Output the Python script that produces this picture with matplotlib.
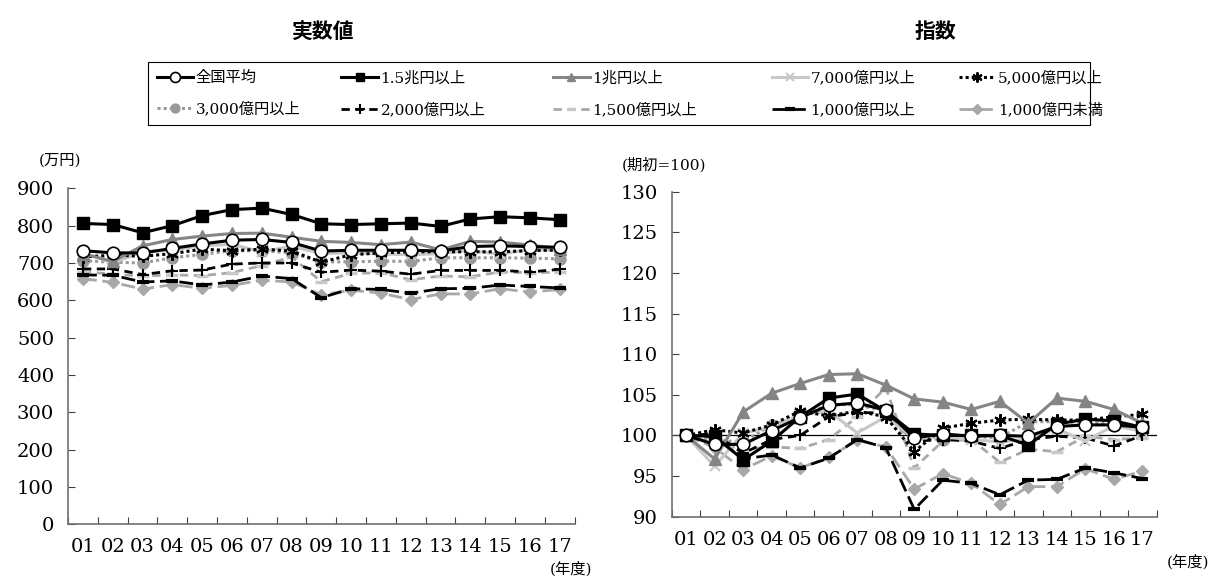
import numpy as np
import matplotlib.pyplot as plt
from matplotlib.patches import Rectangle
from matplotlib.ticker import FixedLocator, NullFormatter

plt.rcParams['font.family'] = ['DejaVu Serif', 'Noto Sans CJK JP']

# 年度
years = ['01', '02', '03', '04', '05', '06', '07', '08', '09',
         '10', '11', '12', '13', '14', '15', '16', '17']

# 実数値 (万円)
zenkoku = [733, 727, 727, 739, 751, 761, 763, 755, 732, 734, 734, 734, 732, 744, 746, 744, 742]
cho15 = [806, 803, 781, 800, 827, 843, 847, 830, 805, 803, 805, 807, 798, 818, 824, 821, 816]
cho1 = [725, 704, 746, 763, 772, 779, 780, 769, 758, 755, 749, 756, 735, 758, 756, 748, 738]
oku7000 = [728, 700, 730, 735, 746, 750, 730, 745, 725, 727, 724, 722, 725, 734, 723, 737, 732]
oku5000 = [716, 721, 718, 725, 737, 733, 737, 732, 702, 722, 727, 730, 730, 730, 730, 733, 735]
oku3000 = [706, 702, 700, 714, 723, 733, 733, 727, 703, 703, 705, 704, 714, 714, 714, 713, 711]
oku2000 = [684, 684, 669, 679, 681, 697, 700, 700, 675, 681, 678, 670, 680, 680, 680, 676, 683]
oku1500 = [677, 670, 665, 668, 666, 674, 693, 716, 650, 672, 674, 655, 665, 663, 676, 674, 675]
oku1000 = [668, 667, 649, 652, 641, 649, 665, 658, 607, 631, 629, 619, 631, 632, 641, 637, 633]
miman1000 = [658, 648, 630, 642, 632, 640, 654, 649, 615, 627, 619, 602, 617, 617, 631, 622, 629]

# 指数 (期初=100)
zenkoku_idx = [100, 98.9, 98.9, 100.6, 102.2, 103.7, 104.0, 103.1, 99.7, 100.2, 99.9, 100.0, 99.9, 101.1, 101.3, 101.3, 101.0]
cho15_idx = [100, 99.9, 97.0, 99.3, 102.3, 104.6, 105.1, 103.0, 100.2, 100.0, 100.0, 100.0, 98.8, 101.4, 102.0, 101.8, 101.0]
cho1_idx = [100, 97.1, 102.9, 105.2, 106.4, 107.5, 107.6, 106.2, 104.5, 104.1, 103.2, 104.2, 101.5, 104.6, 104.2, 103.2, 101.5]
oku7000_idx = [100, 96.2, 100.3, 101.0, 102.5, 103.0, 100.3, 102.3, 99.6, 99.8, 99.5, 99.2, 99.6, 100.8, 99.3, 101.2, 100.5]
oku5000_idx = [100, 100.7, 100.3, 101.3, 103.0, 102.4, 103.0, 102.3, 98.0, 100.9, 101.5, 101.9, 102.0, 101.9, 101.9, 102.3, 102.6]
oku3000_idx = [100, 99.4, 99.2, 101.3, 102.3, 103.8, 103.8, 103.0, 99.7, 99.5, 99.9, 99.7, 101.7, 101.7, 101.6, 101.5, 101.0]
oku2000_idx = [100, 100.2, 97.8, 99.5, 100.0, 102.3, 102.8, 102.8, 99.3, 99.5, 99.3, 98.4, 99.5, 99.9, 99.7, 98.7, 100.0]
oku1500_idx = [100, 99.0, 98.3, 98.6, 98.4, 99.5, 102.3, 105.9, 96.0, 99.3, 99.5, 96.7, 98.3, 98.0, 99.9, 99.5, 99.7]
oku1000_idx = [100, 99.8, 97.1, 97.6, 96.0, 97.2, 99.5, 98.5, 90.9, 94.5, 94.1, 92.7, 94.5, 94.6, 96.0, 95.4, 94.7]
miman1000_idx = [100, 98.5, 95.8, 97.5, 96.0, 97.3, 99.4, 98.6, 93.4, 95.3, 94.1, 91.5, 93.7, 93.7, 95.9, 94.6, 95.6]

labels = ['全国平均', '1.5兆円以上', '1兆円以上', '7,000億円以上', '5,000億円以上',
          '3,000億円以上', '2,000億円以上', '1,500億円以上', '1,000億円以上', '1,000億円未満']

real = [zenkoku, cho15, cho1, oku7000, oku5000, oku3000, oku2000, oku1500, oku1000, miman1000]
idx = [zenkoku_idx, cho15_idx, cho1_idx, oku7000_idx, oku5000_idx, oku3000_idx,
       oku2000_idx, oku1500_idx, oku1000_idx, miman1000_idx]

# 系列ごとの線・マーカー
styles = [
    dict(color='black', lw=2.2, ls='-', marker='o', ms=9, mfc='white', mec='black', mew=1.2, zorder=10),
    dict(color='black', lw=2.2, ls='-', marker='s', ms=8, mfc='black', mec='black', zorder=8),
    dict(color='#858585', lw=2.2, ls='-', marker='^', ms=8, mfc='#858585', mec='#858585', zorder=7),
    dict(color='#c8c8c8', lw=2.2, ls='-', marker='x', ms=7, mfc='#c8c8c8', mec='#c8c8c8', mew=1.5, zorder=6),
    dict(color='black', lw=2.2, ls=(0, (1, 1)), marker=(6, 2, 0), ms=9, mec='black', mew=1.5, zorder=6),
    dict(color='#9a9a9a', lw=2.2, ls=(0, (1, 1)), marker='o', ms=8, mfc='#9a9a9a', mec='#9a9a9a', zorder=5),
    dict(color='black', lw=2.0, ls=(0, (3, 2)), marker='+', ms=9, mec='black', mew=1.5, zorder=5),
    dict(color='#a8a8a8', lw=2.0, ls=(0, (3, 2)), marker='_', ms=8, mec='#c8c8c8', mew=2.5, zorder=4),
    dict(color='black', lw=2.0, ls=(0, (5, 2)), marker='_', ms=9, mec='black', mew=3, zorder=4),
    dict(color='#a8a8a8', lw=2.0, ls=(0, (5, 2)), marker='D', ms=6.5, mfc='#a8a8a8', mec='#a8a8a8', zorder=3),
]

fig = plt.figure(figsize=(12.15, 5.76), dpi=100)
ax1 = fig.add_axes([0.056, 0.090, 0.417, 0.583])
ax2 = fig.add_axes([0.553, 0.103, 0.399, 0.564])

x = np.arange(1, len(years) + 1)


def setup(ax, ylim, step):
    ax.set_xlim(0.5, len(years) + 0.5)
    ax.set_ylim(*ylim)
    ax.set_yticks(np.arange(ylim[0], ylim[1] + step, step))
    ax.xaxis.set_major_locator(FixedLocator(np.arange(0.5, len(years) + 1, 1)))
    ax.xaxis.set_major_formatter(NullFormatter())
    ax.set_xticks(x, minor=True)
    ax.set_xticklabels(years, minor=True)
    ax.tick_params(axis='x', which='minor', length=0, pad=10, labelsize=14)
    ax.tick_params(axis='x', which='major', direction='in', length=5, color='#404040')
    ax.tick_params(axis='y', direction='in', length=5, color='#404040', labelsize=14, pad=10)
    for s in ['top', 'right']:
        ax.spines[s].set_visible(False)
    for s in ['left', 'bottom']:
        ax.spines[s].set_color('#707070')
        ax.spines[s].set_linewidth(1.2)


setup(ax1, (0, 900), 100)
setup(ax2, (90, 130), 5)
ax2.axhline(100, color='black', lw=0.9, zorder=1)

handles = []
for vals, ivals, lab, st in zip(real, idx, labels, styles):
    h, = ax1.plot(x, vals, label=lab, clip_on=False, **st)
    ax2.plot(x, ivals, clip_on=False, **st)
    handles.append(h)

# 凡例: 列ごとに2項目ずつ、外枠は別に描く
col_x = [0.119, 0.271, 0.445, 0.625, 0.779]
for c, cx in enumerate(col_x):
    fig.legend([handles[c], handles[c + 5]], [labels[c], labels[c + 5]],
               loc='upper left', bbox_to_anchor=(cx, 0.898), frameon=False,
               fontsize=11, handlelength=2.4, handletextpad=0.15,
               labelspacing=1.1, borderpad=0.3, markerscale=0.8)
fig.patches.append(Rectangle((0.122, 0.783), 0.775, 0.109, transform=fig.transFigure,
                             fill=False, edgecolor='black', lw=0.8))

fig.text(0.265, 0.945, '実数値', ha='center', va='center', fontsize=15,
         fontweight='bold', family='Noto Sans CJK JP')
fig.text(0.770, 0.945, '指数', ha='center', va='center', fontsize=15,
         fontweight='bold', family='Noto Sans CJK JP')

fig.text(0.032, 0.722, '(万円)', ha='left', va='center', fontsize=11)
fig.text(0.512, 0.713, '(期初=100)', ha='left', va='center', fontsize=11)
fig.text(0.470, 0.013, '(年度)', ha='center', va='center', fontsize=11)
fig.text(0.978, 0.025, '(年度)', ha='center', va='center', fontsize=11)

fig.savefig('out.png', dpi=100)
